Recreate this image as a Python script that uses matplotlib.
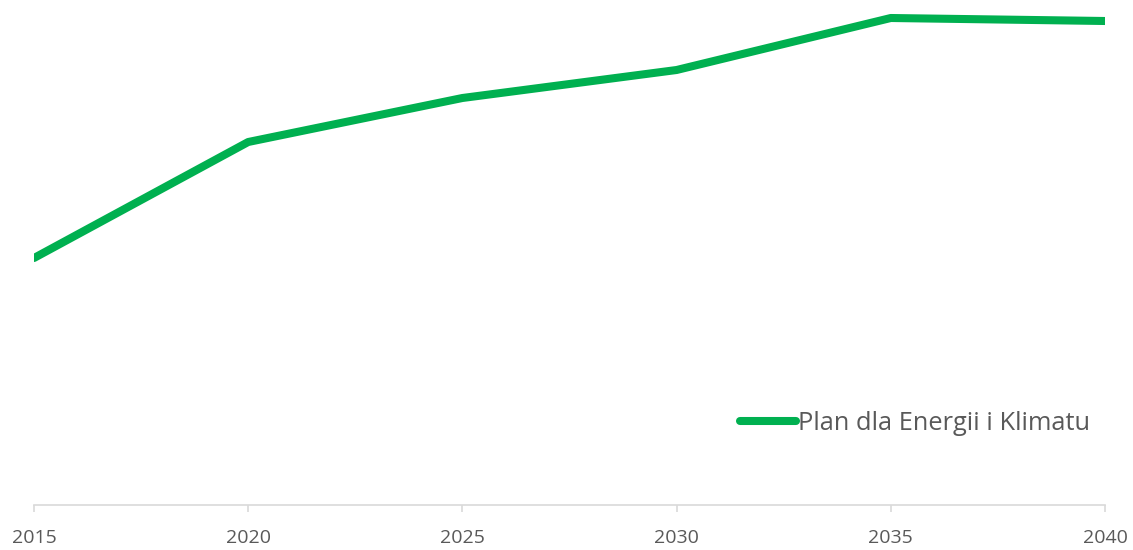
import matplotlib.pyplot as plt

years = [2015, 2020, 2025, 2030, 2035, 2040]
values = [247, 363, 407, 435, 487, 484]
series_name = "Plan dla Energii i Klimatu"

W, H = 1133, 550
fig = plt.figure(figsize=(W / 100, H / 100), dpi=100)
ax = fig.add_axes([34 / W, (H - 505) / H, (1105 - 34) / W, 500 / H])

ax.plot(years, values, color="#00B050", linewidth=5.8,
        solid_capstyle="round", solid_joinstyle="round", label=series_name)

ax.set_xlim(2015, 2040)
ax.set_ylim(0, 500)
ax.set_xticks(years)
ax.set_xticklabels([str(y) for y in years], fontsize=14, color="#595959",
                   fontfamily="Open Sans")
ax.set_yticks([])
for s in ["left", "right", "top"]:
    ax.spines[s].set_visible(False)
ax.spines["bottom"].set_color("#D9D9D9")
ax.spines["bottom"].set_linewidth(1.2)
ax.tick_params(axis="x", direction="out", length=5, width=1.2,
               color="#D9D9D9", pad=12)

leg = ax.legend(loc="center left", bbox_to_anchor=(740 / W, 1 - 423 / H),
                bbox_transform=fig.transFigure, frameon=False,
                borderpad=0, borderaxespad=0, handlelength=2.2,
                handletextpad=0.1, prop={"family": "Open Sans", "size": 18.3})
for t in leg.get_texts():
    t.set_color("#595959")

fig.savefig("out.png", dpi=100)
